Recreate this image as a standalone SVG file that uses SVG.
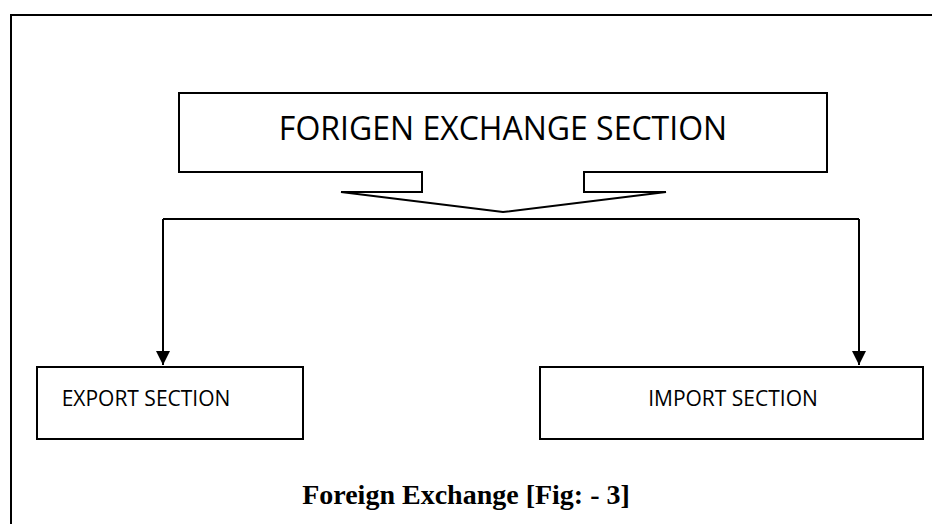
<svg xmlns="http://www.w3.org/2000/svg" width="932" height="524" viewBox="0 0 932 524">
<defs>
<style>
.ln{fill:none;stroke:#000;stroke-width:2}
.box{fill:#fff;stroke:#000;stroke-width:2}
.lbl{font-family:"Open Sans","Noto Sans",sans-serif;fill:#000}
.cap{font-family:"Liberation Serif",serif;font-weight:bold;fill:#000}
</style>
<marker id="ah" markerWidth="16" markerHeight="16" refX="14" refY="7" orient="auto" markerUnits="userSpaceOnUse">
<path d="M0,0 L14,7 L0,14 Z" fill="#000"/>
</marker>
</defs>
<rect x="0" y="0" width="932" height="524" fill="#fff"/>
<rect id="frame" x="11" y="15" width="930" height="520" class="ln"/>
<g id="forex">
<path class="box" d="M179,93 H827 V172 H584 V192 H666 L503,212 L341,192 H422 V172 H179 Z"/>
<text class="lbl" x="503" y="140" font-size="32" text-anchor="middle">FORIGEN EXCHANGE SECTION</text>
</g>
<g id="connectors">
<path class="ln" d="M163,219 H859"/>
<path class="ln" d="M163,219 V365" marker-end="url(#ah)"/>
<path class="ln" d="M859,219 V365" marker-end="url(#ah)"/>
</g>
<g id="export">
<rect class="box" x="37" y="367" width="266" height="72"/>
<text class="lbl" x="146" y="406" font-size="21" text-anchor="middle">EXPORT SECTION</text>
</g>
<g id="import">
<rect class="box" x="540" y="367" width="383" height="72"/>
<text class="lbl" x="733" y="406" font-size="21" text-anchor="middle">IMPORT SECTION</text>
</g>
<text class="cap" x="466" y="504" font-size="28" text-anchor="middle">Foreign Exchange [Fig: - 3]</text>
</svg>
